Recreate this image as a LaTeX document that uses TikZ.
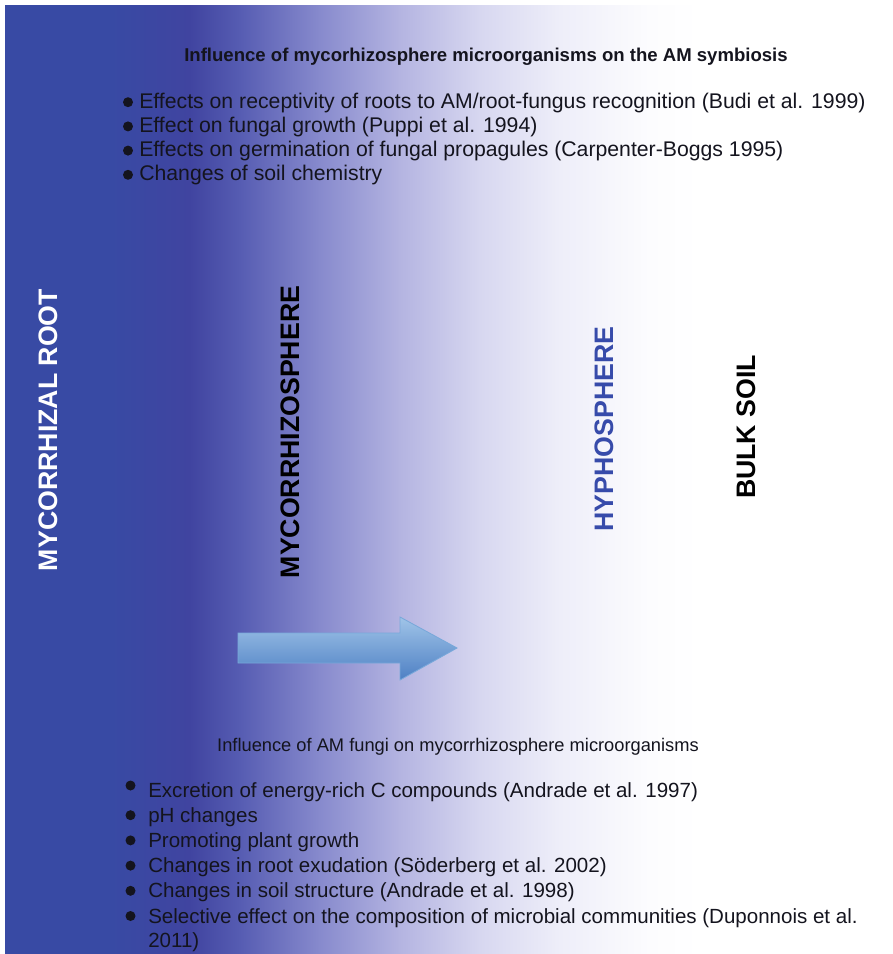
\documentclass[tikz,border=0pt]{standalone}
\usepackage{fontspec}
\setmainfont{Liberation Sans}
\usepackage{xcolor}
\usepackage{tikz}
\usetikzlibrary{positioning}

\definecolor{rootblue}{RGB}{56,74,164}
\definecolor{deepblue}{RGB}{64,68,160}
\definecolor{midblue}{RGB}{86,92,178}
\definecolor{lilac}{RGB}{135,138,205}
\definecolor{palelilac}{RGB}{180,180,225}
\definecolor{mist}{RGB}{215,215,240}
\definecolor{haze}{RGB}{238,238,249}
\definecolor{snow}{RGB}{252,252,254}
\definecolor{hyphablue}{RGB}{55,75,170}
\definecolor{arrowtop}{RGB}{160,196,232}
\definecolor{arrowbot}{RGB}{78,128,196}
\definecolor{arrowedge}{RGB}{120,168,218}
\definecolor{inkdark}{RGB}{20,20,30}

\begin{document}
\begin{tikzpicture}[x=0.025cm, y=-0.025cm,
  zone/.style={rotate=90, inner sep=0pt, font=\fontsize{19}{22}\selectfont\bfseries},
  heading/.style={anchor=base, inner sep=0pt, text=inkdark},
  upitem/.style={anchor=base west, inner sep=0pt, text=inkdark, font=\fontsize{15.1}{17}\selectfont},
  lowitem/.style={anchor=base west, inner sep=0pt, text=inkdark, font=\fontsize{14.6}{17.7}\selectfont},
  dot/.style={fill=inkdark}]
  \useasboundingbox (0,0) rectangle (893,954);

  % background: root to bulk soil
  \fill[rootblue] (5,5) rectangle (110,954);
  \shade[left color=rootblue, right color=deepblue] (110,5) rectangle (190,954);
  \shade[left color=deepblue, right color=midblue] (189.5,5) rectangle (240,954);
  \shade[left color=midblue, right color=lilac] (239.5,5) rectangle (320,954);
  \shade[left color=lilac, right color=palelilac] (319.5,5) rectangle (400,954);
  \shade[left color=palelilac, right color=mist] (399.5,5) rectangle (480,954);
  \shade[left color=mist, right color=haze] (479.5,5) rectangle (560,954);
  \shade[left color=haze, right color=snow] (559.5,5) rectangle (650,954);
  \shade[left color=snow, right color=white] (649.5,5) rectangle (700,954);

  % zones
  \node[zone, text=white] (root) at (48,430) {MYCORRHIZAL ROOT};
  \node[zone, text=black] (myco) at (290,432) {MYCORRHIZOSPHERE};
  \node[zone, text=hyphablue] (hypho) at (604,429) {HYPHOSPHERE};
  \node[zone, text=black] (bulk) at (746,427) {BULK SOIL};

  % upper list
  \node[heading, font=\fontsize{13.2}{16}\selectfont\bfseries] (uphead) at (486,61)
    {Influence of mycorhizosphere microorganisms on the AM symbiosis};
  \foreach \txt [count=\i] in {
      {Effects on receptivity of roots to AM/root-fungus recognition (Budi et al. 1999)},
      {Effect on fungal growth (Puppi et al. 1994)},
      {Effects on germination of fungal propagules (Carpenter-Boggs 1995)},
      {Changes of soil chemistry}}
  {
    \node[upitem] (up\i) at (139,{84+24.2*\i}) {\txt};
    \fill[dot] (128,{78+24.2*\i}) circle[radius=0.125cm];
  }

  % arrow
  \shade[top color=arrowtop, bottom color=arrowbot, draw=arrowedge, line width=0.6pt]
    (238,633) -- (400,633) -- (400,617) -- (457,648) -- (400,680) -- (400,663) -- (238,663) -- cycle;

  % lower list
  \node[heading, font=\fontsize{13}{16}\selectfont] (lowhead) at (458,751)
    {Influence of AM fungi on mycorrhizosphere microorganisms};
  \foreach \txt [count=\i] in {
      {Excretion of energy-rich C compounds (Andrade et al. 1997)},
      {pH changes},
      {Promoting plant growth},
      {Changes in root exudation (Söderberg et al. 2002)},
      {Changes in soil structure (Andrade et al. 1998)},
      {Selective effect on the composition of microbial communities (Duponnois et al.}}
  {
    \node[lowitem] (low\i) at (148,{771.8+25.2*\i}) {\txt};
    \fill[dot] (130.5,{771.8+25.2*\i-(\i==1 ? 11.5 : 7)}) circle[radius=0.125cm];
  }
  \node[lowitem] (low7) at (148,947) {2011)};
\end{tikzpicture}
\end{document}
